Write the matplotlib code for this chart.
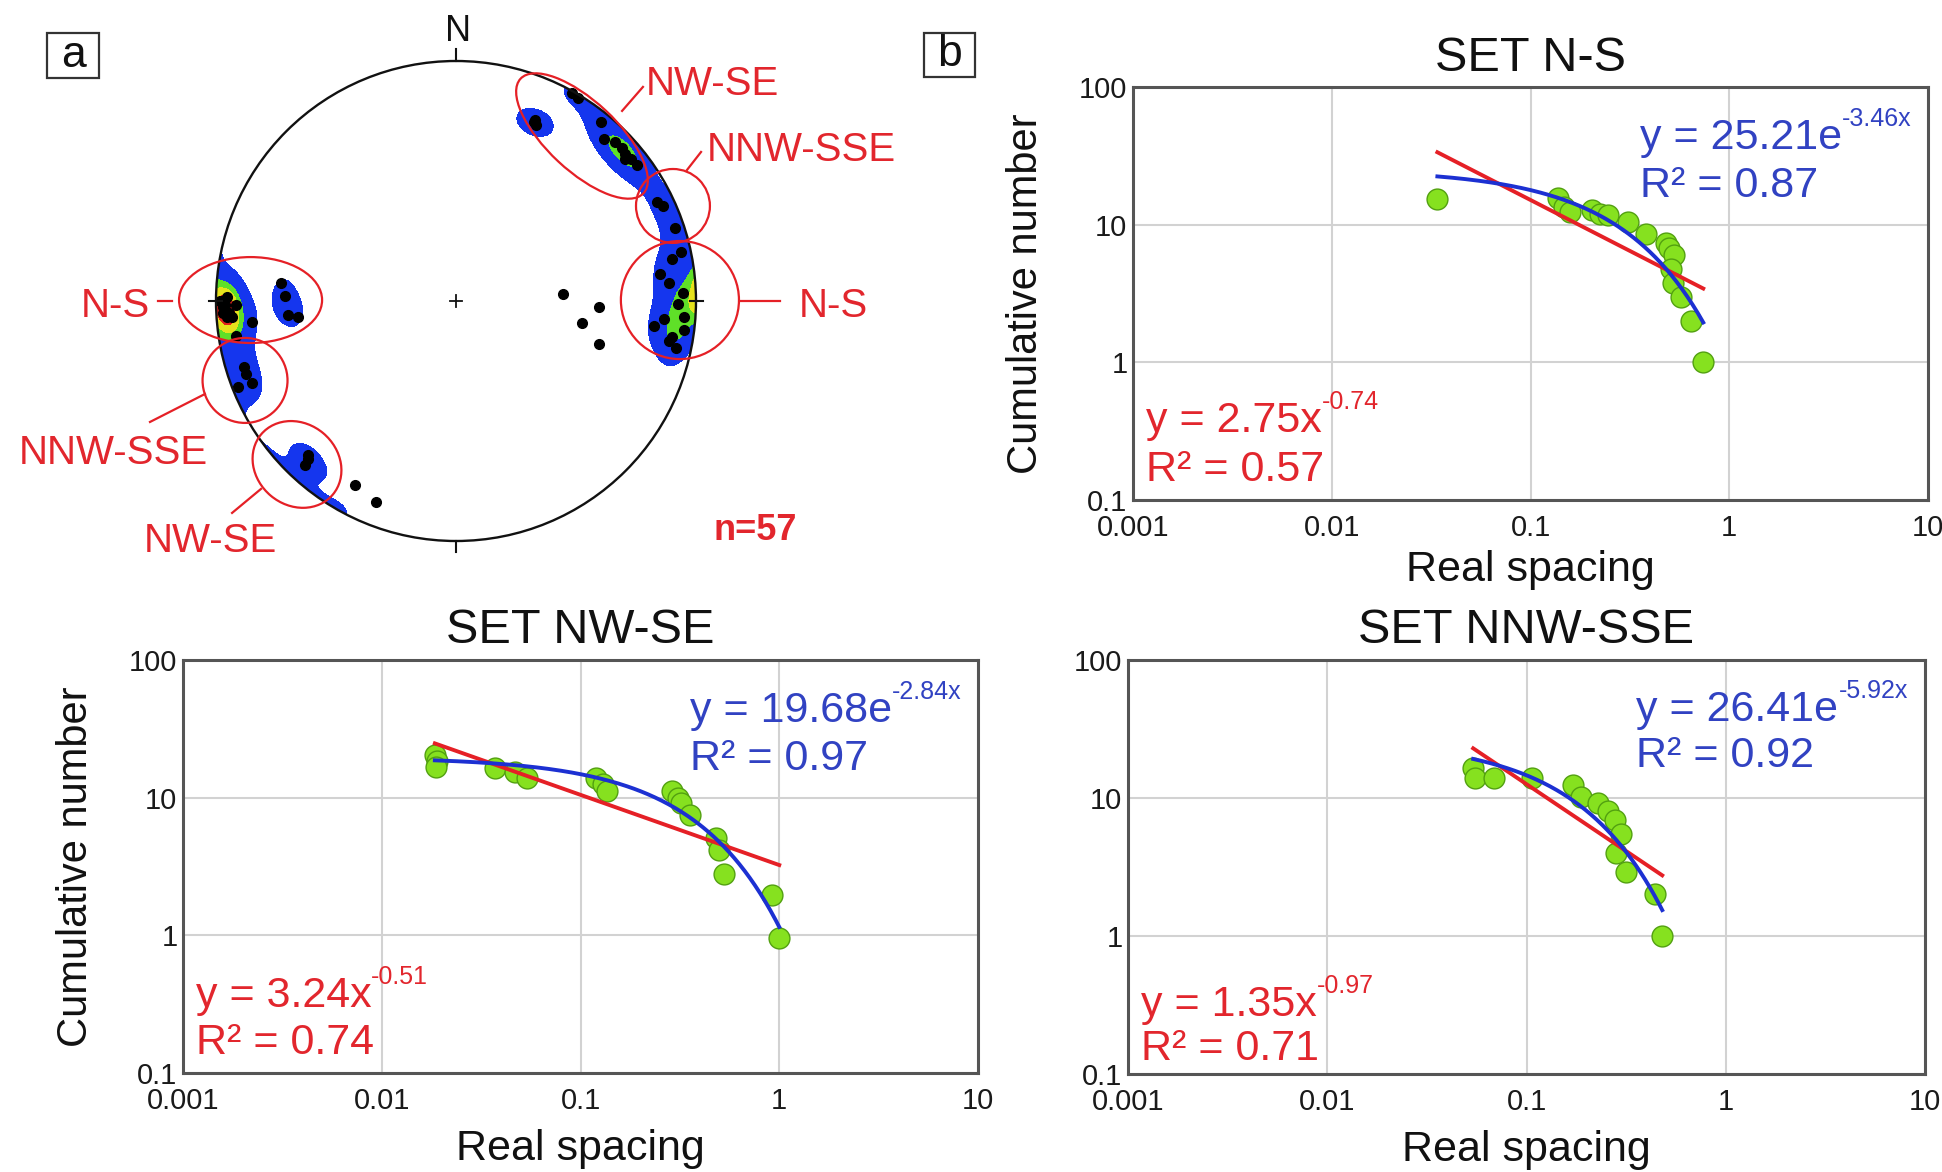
import numpy as np
import matplotlib
matplotlib.use('Agg')
import matplotlib.pyplot as plt
from matplotlib.patches import Ellipse, Circle, Rectangle
from matplotlib.ticker import FixedLocator, FuncFormatter, NullLocator

plt.rcParams['font.family'] = ['Liberation Sans', 'DejaVu Sans']

W, H, DPI = 1942, 1172, 100

# ---------------- spacing data (real spacing, cumulative number) ----------------
ns_spacing = [0.034, 0.138, 0.148, 0.158, 0.205, 0.225, 0.245, 0.31, 0.38, 0.48,
              0.50, 0.53, 0.51, 0.52, 0.57, 0.64, 0.74]
ns_count = [15.3, 15.5, 13.5, 12.4, 12.8, 12.0, 11.7, 10.5, 8.5, 7.4,
            6.8, 6.0, 4.8, 3.8, 3.0, 2.0, 1.0]

nwse_spacing = [0.0185, 0.019, 0.0188, 0.037, 0.047, 0.054, 0.12, 0.13, 0.136,
                0.29, 0.31, 0.32, 0.356, 0.48, 0.50, 0.53, 0.92, 1.0]
nwse_count = [20.4, 18.5, 16.8, 16.3, 15.4, 14.0, 13.8, 12.5, 11.1,
              11.1, 10.0, 9.1, 7.5, 5.1, 4.2, 2.8, 1.96, 0.95]

nnwsse_spacing = [0.054, 0.055, 0.069, 0.106, 0.171, 0.188, 0.228, 0.256,
                  0.277, 0.299, 0.282, 0.317, 0.44, 0.48]
nnwsse_count = [16.4, 13.9, 13.9, 14.0, 12.4, 10.2, 9.2, 8.0,
                6.9, 5.5, 4.0, 2.9, 2.0, 1.0]

set_names = ['SET N-S', 'SET NW-SE', 'SET NNW-SSE']

# fitted laws: power y = a*x^b and exponential y = a*exp(b*x)
pow_coef = [2.75, 3.24, 1.35]
pow_expo = [-0.74, -0.51, -0.97]
pow_r2 = [0.57, 0.74, 0.71]
exp_coef = [25.21, 19.68, 26.41]
exp_rate = [-3.46, -2.84, -5.92]
exp_r2 = [0.87, 0.97, 0.92]

# ---------------- joint poles (trend, plunge in degrees) ----------------
pole_trend = [23.5, 23.5, 24.5, 31.0, 29.1, 39.0, 42.4, 47.3, 49.0, 50.0, 51.0, 53.1, 45.0,
              63.8, 65.3, 71.6, 77.7, 79.0, 82.5, 85.2, 88.0, 90.8, 94.0, 97.2, 99.5,
              97.2, 100.6, 95.0, 102.0, 86.3, 92.4, 99.9, 106.7,
              268.5, 267.0, 269.0, 266.0, 270.0, 267.0, 265.9, 264.1, 271.0, 269.0,
              275.9, 271.7, 265.2, 264.2, 261.0,
              252.7, 250.8, 248.5, 248.1, 223.1, 222.6, 224.0, 208.8, 201.7]
pole_plunge = [19.7, 19.0, 20.5, 1.4, 0.9, 4.5, 9.5, 6.6, 7.5, 8.9, 7.0, 6.3, 7.0,
               7.3, 5.7, 4.3, 4.5, 9.2, 15.4, 11.9, 6.0, 8.3, 5.3, 17.9, 9.6,
               4.8, 10.6, 14.0, 7.0, 53.2, 40.1, 45.7, 37.8,
               3.3, 3.0, 4.0, 5.0, 2.0, 6.0, 7.1, 15.6, 5.1, 9.0,
               27.6, 29.5, 30.4, 34.2, 8.0,
               8.3, 8.2, 2.7, 9.2, 10.7, 7.9, 12.0, 13.6, 10.8]
n_label = 57

RED = '#e52026'
BLUE = '#1c30d2'
RED_TXT = '#e2262d'
BLUE_TXT = '#3142c2'
GREEN = '#86e11f'
GREEN_EDGE = '#52a010'

fig = plt.figure(figsize=(W / DPI, H / DPI), dpi=DPI)
fig.patch.set_facecolor('white')


def px_rect(x0, y0, x1, y1):
    return [x0 / W, 1 - y1 / H, (x1 - x0) / W, (y1 - y0) / H]


def equation(ax, x, y, base, sup, color):
    t = ax.text(x, y, base, transform=ax.transAxes, color=color, fontsize=31,
                ha='left', va='baseline', zorder=6)
    ax.annotate(sup, xy=(1.0, 0.80), xycoords=t, color=color, fontsize=18,
                ha='left', va='baseline', zorder=6)


def spacing_panel(rect, xs, ys, i, show_ylabel, red_y, blue_y, title_pad, xlabel_y):
    ax = fig.add_axes(px_rect(*rect))
    ax.set_xscale('log')
    ax.set_yscale('log')
    ax.set_xlim(1e-3, 10)
    ax.set_ylim(0.1, 100)
    ax.xaxis.set_major_locator(FixedLocator([1e-3, 1e-2, 1e-1, 1, 10]))
    ax.yaxis.set_major_locator(FixedLocator([0.1, 1, 10, 100]))
    ax.xaxis.set_minor_locator(NullLocator())
    ax.yaxis.set_minor_locator(NullLocator())
    fmt = FuncFormatter(lambda v, _: f'{v:g}')
    ax.xaxis.set_major_formatter(fmt)
    ax.yaxis.set_major_formatter(fmt)
    ax.tick_params(length=0, labelsize=21, labelcolor='#1a1a1a')
    ax.tick_params(axis='x', pad=10)
    ax.tick_params(axis='y', pad=4)
    ax.grid(True, color='#d2d2d2', lw=1.5)
    ax.set_axisbelow(True)
    for s in ax.spines.values():
        s.set_color('#555555')
        s.set_linewidth(2.2)

    ax.plot(xs, ys, 'o', ms=15, mfc=GREEN, mec=GREEN_EDGE, mew=1.0, zorder=3)
    xf = np.geomspace(min(xs), max(xs), 200)
    ax.plot(xf, pow_coef[i] * xf ** pow_expo[i], color=RED, lw=2.8, zorder=4)
    ax.plot(xf, exp_coef[i] * np.exp(exp_rate[i] * xf), color=BLUE, lw=2.8, zorder=5)

    ax.set_title(set_names[i], fontsize=35, pad=title_pad, color='#111111')
    ax.set_xlabel('Real spacing', fontsize=31, color='#111111')
    ax.xaxis.set_label_coords(0.5, xlabel_y)
    if show_ylabel:
        ax.set_ylabel('Cumulative number', fontsize=30, color='#111111')
        ax.yaxis.set_label_coords(-0.11, 0.5)

    equation(ax, 0.638, blue_y[0], f'y = {exp_coef[i]:.2f}e', f'{exp_rate[i]:.2f}x', BLUE_TXT)
    ax.text(0.638, blue_y[1], f'R² = {exp_r2[i]:.2f}', transform=ax.transAxes,
            color=BLUE_TXT, fontsize=31, ha='left', va='baseline', zorder=6)
    equation(ax, 0.016, red_y[0], f'y = {pow_coef[i]:.2f}x', f'{pow_expo[i]:.2f}', RED_TXT)
    ax.text(0.016, red_y[1], f'R² = {pow_r2[i]:.2f}', transform=ax.transAxes,
            color=RED_TXT, fontsize=31, ha='left', va='baseline', zorder=6)
    return ax


spacing_panel((1133, 87, 1928, 500), ns_spacing, ns_count, 0, True,
              (0.165, 0.045), (0.85, 0.734), 11.5, -0.12)
spacing_panel((183, 660, 978, 1073), nwse_spacing, nwse_count, 1, True,
              (0.16, 0.046), (0.85, 0.734), 12.5, -0.135)
spacing_panel((1128, 660, 1925, 1074), nnwsse_spacing, nnwsse_count, 2, False,
              (0.14, 0.035), (0.853, 0.742), 12.5, -0.135)

# ---------------- panel letters ----------------
for letter, (x0, y0, x1, y1) in [('a', (47, 33, 99, 78)), ('b', (924, 33, 975, 77))]:
    fig.add_artist(Rectangle((x0 / W, 1 - y1 / H), (x1 - x0) / W, (y1 - y0) / H,
                             transform=fig.transFigure, fill=False,
                             ec='#333333', lw=1.6))
    fig.text((x0 + x1) / 2 / W, 1 - (y0 + y1) / 2 / H, letter, fontsize=32,
             ha='center', va='center', color='#111111')

# ---------------- stereonet (equal-area, lower hemisphere) ----------------
axs = fig.add_axes(px_rect(156, 1, 756, 601))
axs.set_xlim(-1.25, 1.25)
axs.set_ylim(-1.25, 1.25)
axs.axis('off')

tr = np.radians(pole_trend)
pl = np.radians(pole_plunge)
poles = np.stack([np.cos(pl) * np.cos(tr), np.cos(pl) * np.sin(tr), np.sin(pl)], axis=1)

g = np.linspace(-1, 1, 401)
U, V = np.meshgrid(g, g)
Rg = np.hypot(U, V)
inc = 2 * np.arcsin(np.clip(Rg / np.sqrt(2), 0, 1))
az = np.arctan2(U, V)
grid_vec = np.stack([np.sin(inc) * np.cos(az), np.sin(inc) * np.sin(az), np.cos(inc)], axis=-1)
cosang = np.abs(grid_vec @ poles.T)
dens = np.exp(110.0 * (cosang - 1)).sum(axis=-1)
dens[Rg > 1] = np.nan
dmax = np.nanmax(dens)
levels = [1.9, 0.55 * dmax, 0.7 * dmax, 0.85 * dmax, 1.01 * dmax]
axs.contourf(U, V, dens, levels=levels,
             colors=['#1536ee', '#5fe028', '#e6e21c', '#e2221c'], zorder=1)

r_proj = np.sqrt(2) * np.sin((np.pi / 2 - pl) / 2)
axs.plot(r_proj * np.sin(tr), r_proj * np.cos(tr), 'o', ms=7, color='black', zorder=3)

axs.add_patch(Circle((0, 0), 1.0, fill=False, ec='#111111', lw=1.7, zorder=4))
axs.plot([0, 0], [1.0, 1.05], color='#111111', lw=1.5, zorder=4)
axs.plot([0, 0], [-1.0, -1.045], color='#111111', lw=1.5, zorder=4)
axs.plot([0.975, 1.03], [0, 0], color='#111111', lw=1.5, zorder=4)
axs.plot([-1.03, -0.975], [0, 0], color='#111111', lw=1.5, zorder=4)
axs.plot([-0.025, 0.025], [0, 0], color='#111111', lw=1.3, zorder=4)
axs.plot([0, 0], [-0.025, 0.025], color='#111111', lw=1.3, zorder=4)
axs.text(0.008, 1.121, 'N', fontsize=26, ha='center', va='center', color='#111111')

# set outlines
set_shapes = [
    Ellipse((0.525, 0.6875), 0.70, 0.29, angle=-43),
    Circle((0.904, 0.396), 0.154),
    Circle((0.933, 0.004), 0.246),
    Ellipse((-0.856, 0.004), 0.596, 0.358),
    Circle((-0.879, -0.331), 0.177),
    Ellipse((-0.6625, -0.681), 0.39, 0.34, angle=-40),
]
for shp in set_shapes:
    shp.set_fill(False)
    shp.set_edgecolor(RED)
    shp.set_linewidth(1.6)
    shp.set_zorder(5)
    axs.add_patch(shp)

leaders = [((0.692, 0.792), (0.779, 0.892)),
           ((0.9625, 0.546), (1.021, 0.621)),
           ((1.1875, 0.0), (1.35, 0.0)),
           ((-1.242, 0.0), (-1.183, 0.0)),
           ((-1.275, -0.504), (-1.046, -0.3875)),
           ((-0.933, -0.883), (-0.8125, -0.783))]
for (x0, y0), (x1, y1) in leaders:
    axs.plot([x0, x1], [y0, y1], color=RED, lw=1.6, zorder=5, clip_on=False)

set_labels = [('NW-SE', 1.067, 0.904), ('NNW-SSE', 1.4375, 0.629), ('N-S', 1.571, -0.02),
              ('N-S', -1.421, -0.02), ('NNW-SSE', -1.429, -0.633), ('NW-SE', -1.025, -1.0)]
for txt, x, y in set_labels:
    axs.text(x, y, txt, fontsize=29, color=RED_TXT, ha='center', va='center', clip_on=False)
axs.text(1.246, -0.958, f'n={n_label}', fontsize=26, fontweight='bold', color=RED_TXT,
         ha='center', va='center')

fig.savefig('out.png', dpi=DPI, facecolor='white')
